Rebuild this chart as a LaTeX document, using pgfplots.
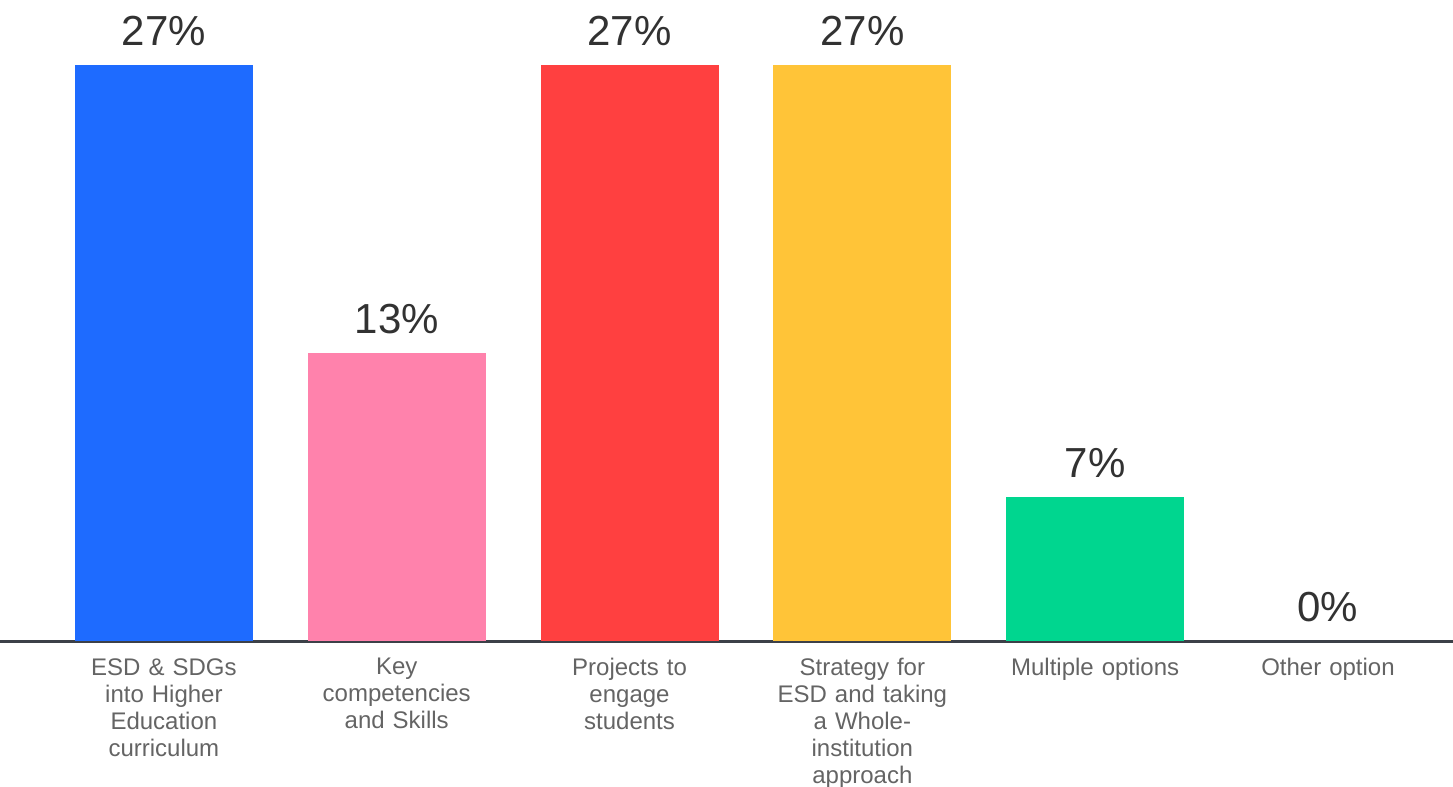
\documentclass[border=0pt]{standalone}
\usepackage{pgfplots}
\pgfplotsset{compat=1.18}
\usepackage{fontspec}
\setmainfont{Liberation Sans}
\definecolor{cblue}{RGB}{30,107,255}
\definecolor{cpink}{RGB}{255,130,172}
\definecolor{cred}{RGB}{255,64,64}
\definecolor{cyellow}{RGB}{255,196,56}
\definecolor{cgreen}{RGB}{0,214,143}
\definecolor{axisgray}{RGB}{60,64,72}
\definecolor{labelgray}{RGB}{100,100,100}
\definecolor{valgray}{RGB}{50,50,50}
\begin{document}
\begin{tikzpicture}
\begin{axis}[
  scale only axis,
  width=726.5bp, height=320.5bp,
  xmin=-0.704, xmax=5.537,
  ymin=0, ymax=29.68,
  axis x line*=bottom,
  axis y line=none,
  x axis line style={axisgray, line width=1.5bp, -},
  xtick={0,1,2,3,4,5},
  major tick length=0pt,
  xticklabels={
    {ESD \& SDGs\\into Higher\\Education\\curriculum},
    {Key\\competencies\\and Skills},
    {Projects to\\engage\\students},
    {Strategy for\\ESD and taking\\a Whole-\\institution\\approach},
    {Multiple options},
    {Other option}},
  xticklabel style={text width=110bp, align=center, anchor=north, inner sep=0pt,
    yshift=-8.5bp, text=labelgray, font=\fontsize{12bp}{13.5bp}\selectfont},
  ybar, bar width=89bp, bar shift=0pt,
  point meta=y,
  /pgf/number format/assume math mode=true,
  nodes near coords={\pgfmathprintnumber[fixed,precision=0,assume math mode=true]{\pgfplotspointmeta}\%},
  every node near coord/.append style={text=valgray, anchor=south, yshift=6bp,
    font=\fontsize{21bp}{24bp}\selectfont},
  clip=false,
]
\addplot[fill=cblue, draw=none] coordinates {(0,26.67)};
\addplot[fill=cpink, draw=none] coordinates {(1,13.33)};
\addplot[fill=cred, draw=none] coordinates {(2,26.67)};
\addplot[fill=cyellow, draw=none] coordinates {(3,26.67)};
\addplot[fill=cgreen, draw=none] coordinates {(4,6.67)};
\addplot[fill=none, draw=none] coordinates {(5,0)};
\end{axis}
\pgfresetboundingbox
\useasboundingbox (0,-73bp) rectangle (726.5bp,320.5bp);
\end{tikzpicture}
\end{document}
